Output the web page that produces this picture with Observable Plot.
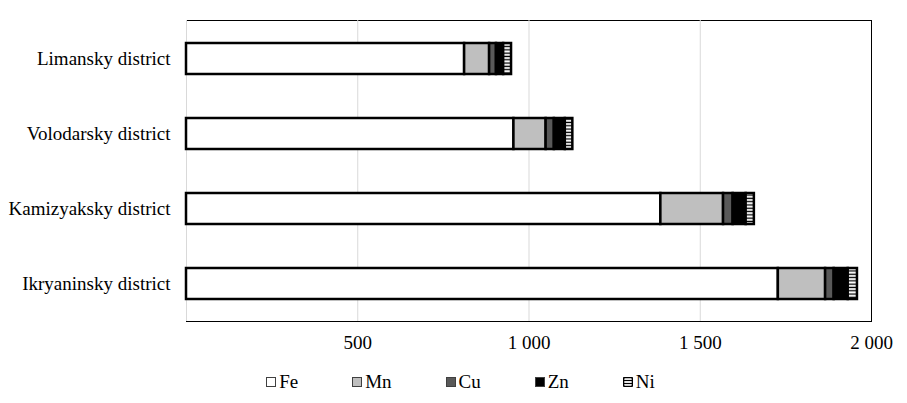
<!DOCTYPE html>
<html>
<head>
<meta charset="utf-8">
<script src="https://cdn.jsdelivr.net/npm/d3@7"></script>
<script src="https://cdn.jsdelivr.net/npm/@observablehq/plot@0.6"></script>
<style>
  body { margin: 0; background: #fff; width: 907px; }
  #chart svg { display: block; }
  #legend { height: 43px; display: flex; justify-content: center; align-items: center; gap: 54px;
    font-family: 'Liberation Serif', 'Times New Roman', serif; font-size: 19px; color: #000; padding-left: 14px; box-sizing: border-box; width: 907px; }
  .item { display: flex; align-items: center; }
  .item svg { margin-right: 3px; display: block; }
</style>
</head>
<body>
<div id="chart"></div>
<div id="legend"></div>
<script>
const districts = ["Limansky district", "Volodarsky district", "Kamizyaksky district", "Ikryaninsky district"];
const elements = ["Fe", "Mn", "Cu", "Zn", "Ni"];
const fe = [812, 956, 1385, 1728];
const mn = [73, 94, 183, 138];
const cu = [20, 24, 28, 25];
const zn = [21, 32, 38, 41];
const ni = [23, 22, 24, 27];
const xTicks = [500, 1000, 1500, 2000];
const gridValues = [0, 500, 1000, 1500];
const colors = ["#ffffff", "#bfbfbf", "#595959", "#000000", "url(#niPattern)"];

const series = [fe, mn, cu, zn, ni];
const data = [];
districts.forEach((d, i) => {
  elements.forEach((e, j) => data.push({district: d, element: e, value: series[j][i]}));
});

const fmt = v => d3.format(",")(v).replace(/,/g, " ");

const chart = Plot.plot({
  width: 907,
  height: 360,
  marginLeft: 186,
  marginRight: 36,
  marginTop: 20,
  marginBottom: 39,
  style: {fontFamily: "'Liberation Serif', 'Times New Roman', serif", fontSize: "19px", color: "#000", background: "#fff"},
  x: {domain: [0, 2000], ticks: xTicks, tickFormat: fmt, tickSize: 0, tickPadding: 15, label: null},
  y: {domain: districts, paddingInner: 0.59, paddingOuter: 0.295, tickSize: 0, tickPadding: 16, label: null},
  color: {domain: elements, range: colors},
  marks: [
    Plot.frame({stroke: "#000", strokeWidth: 1}),
    Plot.ruleX(gridValues, {stroke: "#d9d9d9", strokeWidth: 1}),
    Plot.barX(data, {x: "value", y: "district", fill: "element", stroke: "#000", strokeWidth: 2.5}),
    Plot.axisX({ticks: xTicks, tickFormat: fmt, tickSize: 0, tickPadding: 14, label: null}),
    Plot.axisY({tickSize: 0, tickPadding: 16, label: null})
  ]
});

const defs = d3.select(chart).insert("defs", ":first-child");
const pat = defs.append("pattern").attr("id", "niPattern").attr("patternUnits", "userSpaceOnUse")
  .attr("width", 8).attr("height", 3.3);
pat.append("rect").attr("width", 8).attr("height", 3.3).attr("fill", "#000");
pat.append("rect").attr("y", 1).attr("width", 8).attr("height", 2).attr("fill", "#fff");

document.getElementById("chart").appendChild(chart);

// legend
const legend = d3.select("#legend");
elements.forEach((e, j) => {
  const item = legend.append("div").attr("class", "item");
  const s = item.append("svg").attr("width", 10).attr("height", 10);
  if (e === "Ni") {
    s.append("rect").attr("x", 0.5).attr("y", 0.5).attr("width", 9).attr("height", 9).attr("rx", 1.5)
      .attr("fill", "#fff").attr("stroke", "#000").attr("stroke-width", 1.6);
    [3.5, 6.5].forEach(yy => s.append("line").attr("x1", 1).attr("x2", 9).attr("y1", yy).attr("y2", yy)
      .attr("stroke", "#000").attr("stroke-width", 1.2));
  } else {
    s.append("rect").attr("x", 0.5).attr("y", 0.5).attr("width", 9).attr("height", 9)
      .attr("fill", colors[j]).attr("stroke", "#404040").attr("stroke-width", 1);
  }
  item.append("span").text(e);
});
</script>
</body>
</html>
